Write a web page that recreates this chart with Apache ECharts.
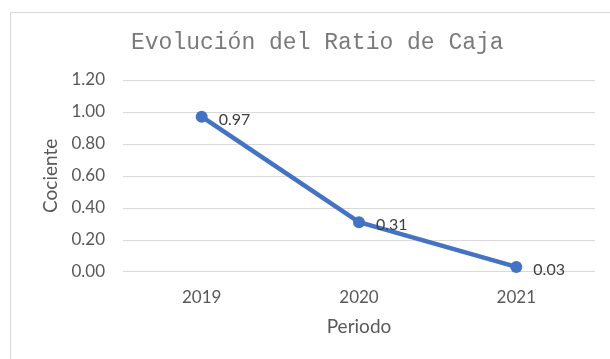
<!DOCTYPE html>
<html>
<head>
<meta charset="utf-8">
<script src="https://cdn.jsdelivr.net/npm/echarts@6/dist/echarts.min.js"></script>
<style>
  html, body { margin: 0; padding: 0; background: #ffffff; }
  #chart { width: 610px; height: 359px; }
</style>
</head>
<body>
<div id="chart"></div>
<script>
// Periods and cash ratio values
const periods = ['2019', '2020', '2021'];
const cashRatio = [0.97, 0.31, 0.03];
// Value axis range
const yMin = 0;
const yMax = 1.2;
const yStep = 0.2;

const chart = echarts.init(document.getElementById('chart'), null, { renderer: 'canvas' });

const labelFont = 'Lato, "Open Sans", sans-serif';

chart.setOption({
  backgroundColor: '#ffffff',
  animation: false,
  graphic: [{
    type: 'rect',
    shape: { x: 10.5, y: 12.5, width: 640, height: 400 },
    style: { fill: 'none', stroke: '#d9d9d9', lineWidth: 1 },
    silent: true
  }],
  title: {
    text: 'Evolución del Ratio de Caja',
    left: 126,
    top: 26,
    textStyle: {
      fontFamily: '"Liberation Mono", "DejaVu Sans Mono", monospace',
      fontSize: 23,
      fontWeight: 'normal',
      color: '#7a7a7a'
    }
  },
  grid: { left: 123, right: 15, top: 80, bottom: 87.3 },
  xAxis: {
    type: 'category',
    data: periods,
    boundaryGap: true,
    axisLine: { show: false },
    axisTick: { show: false },
    axisLabel: { color: '#595959', fontFamily: labelFont, fontSize: 17, margin: 17 },
    name: 'Periodo',
    nameLocation: 'middle',
    nameGap: 46,
    nameTextStyle: { color: '#595959', fontFamily: labelFont, fontSize: 19 }
  },
  yAxis: {
    type: 'value',
    min: yMin,
    max: yMax,
    interval: yStep,
    axisLine: { show: false },
    axisTick: { show: false },
    splitLine: { lineStyle: { color: '#d9d9d9', width: 1 } },
    axisLabel: {
      color: '#595959', fontFamily: labelFont, fontSize: 17, margin: 18,
      formatter: v => v.toFixed(2)
    },
    name: 'Cociente',
    nameLocation: 'middle',
    nameGap: 60,
    nameRotate: 90,
    nameTextStyle: { color: '#595959', fontFamily: labelFont, fontSize: 19 }
  },
  series: [{
    type: 'line',
    data: cashRatio,
    symbol: 'circle',
    symbolSize: 12,
    lineStyle: { color: '#4472c4', width: 4.5 },
    itemStyle: { color: '#4472c4' },
    label: {
      show: true,
      position: 'right',
      distance: 11,
      offset: [0, 3],
      color: '#404040',
      fontFamily: labelFont,
      fontSize: 16,
      formatter: p => p.value.toFixed(2)
    }
  }]
});
</script>
</body>
</html>
